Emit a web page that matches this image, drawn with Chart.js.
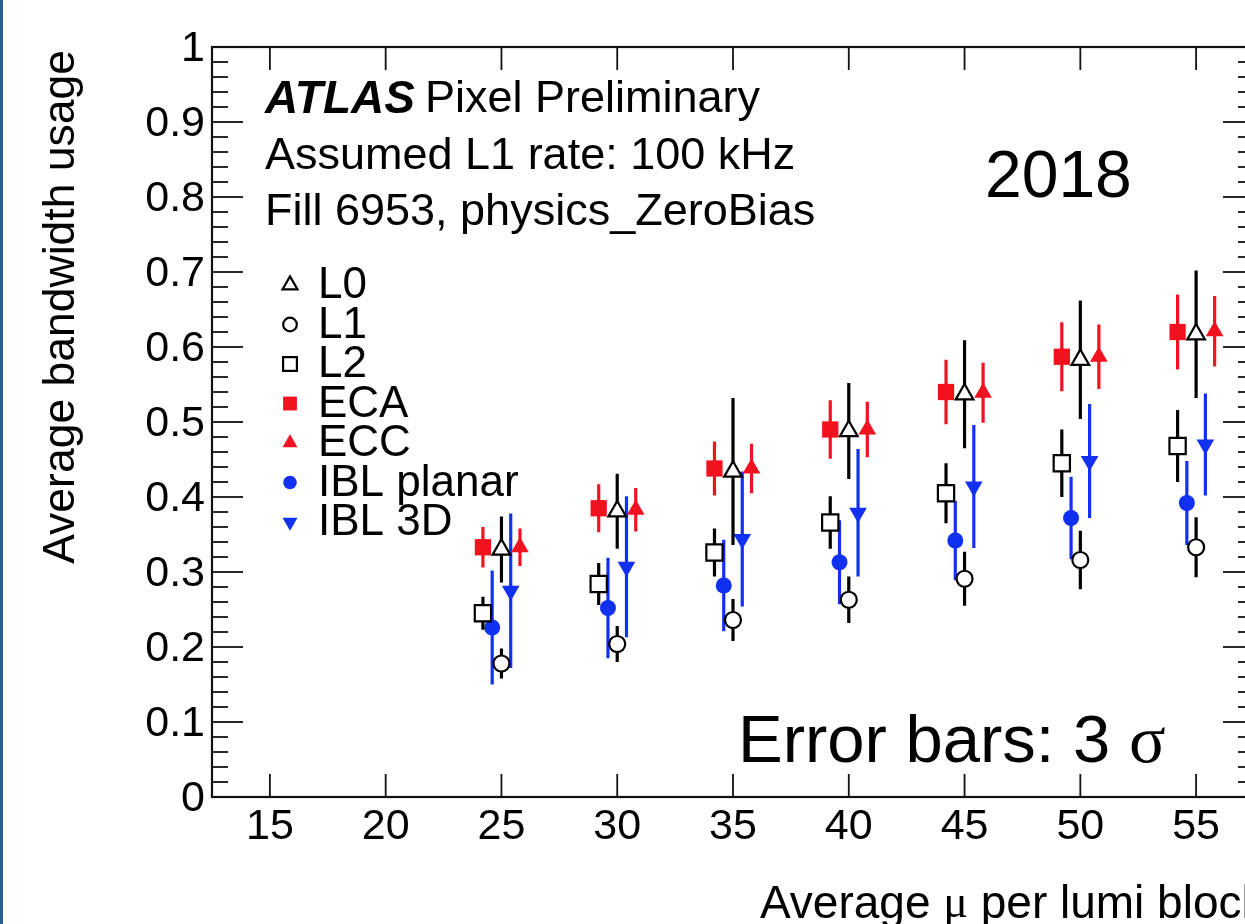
<!DOCTYPE html>
<html>
<head>
<meta charset="utf-8">
<script src="https://cdn.jsdelivr.net/npm/chart.js@4.4.1/dist/chart.umd.min.js"></script>
<style>
html, body { margin: 0; padding: 0; background: #fff; overflow: hidden; }
#chart { position: absolute; left: 0; top: 0; }
#edge { position: absolute; left: 0; top: 0; width: 3px; height: 924px; background: #2a5b9b; }
</style>
</head>
<body>
<canvas id="chart" width="1300" height="924"></canvas>
<div id="edge"></div>
<script>
var muData = [25, 30, 35, 40, 45, 50, 55];

var l0Data = [0.330, 0.381, 0.434, 0.488, 0.537, 0.583, 0.617];
var l0Err = [0.044, 0.050, 0.098, 0.064, 0.072, 0.079, 0.085];
var l1Data = [0.178, 0.204, 0.236, 0.263, 0.291, 0.316, 0.333];
var l1Err = [0.020, 0.024, 0.028, 0.031, 0.036, 0.039, 0.040];
var l2Data = [0.245, 0.284, 0.326, 0.366, 0.405, 0.445, 0.468];
var l2Err = [0.022, 0.028, 0.032, 0.035, 0.040, 0.045, 0.048];
var ecaData = [0.333, 0.385, 0.438, 0.490, 0.540, 0.587, 0.620];
var ecaErr = [0.027, 0.032, 0.036, 0.039, 0.043, 0.046, 0.050];
var eccData = [0.333, 0.383, 0.438, 0.490, 0.539, 0.587, 0.621];
var eccErr = [0.025, 0.029, 0.033, 0.037, 0.040, 0.043, 0.047];
var iblPlanarData = [0.226, 0.252, 0.282, 0.313, 0.342, 0.372, 0.392];
var iblPlanarErr = [0.076, 0.067, 0.061, 0.056, 0.053, 0.055, 0.056];
var ibl3dData = [0.275, 0.307, 0.344, 0.379, 0.414, 0.448, 0.470];
var ibl3dErr = [0.103, 0.094, 0.090, 0.085, 0.082, 0.076, 0.068];

var xTicks = [15, 20, 25, 30, 35, 40, 45, 50, 55];
var yTicks = [0, 0.1, 0.2, 0.3, 0.4, 0.5, 0.6, 0.7, 0.8, 0.9, 1];
var yTickLabels = ['0', '0.1', '0.2', '0.3', '0.4', '0.5', '0.6', '0.7', '0.8', '0.9', '1'];

var RED = '#f2121f', BLUE = '#1230f2', BLACK = '#000';
var SANS = '"Liberation Sans", Arial, Helvetica, sans-serif';
var SERIF = '"Liberation Serif", "Times New Roman", serif';

function points(values, shift) {
    return muData.map(function (mu, i) { return { x: mu + shift, y: values[i] } })
}

function series(label, values, errors, shift, style, radius, fill, line, color, rotation) {
    return {
        label: label,
        data: points(values, shift),
        errors: errors,
        barColor: color,
        pointStyle: style,
        pointRadius: radius,
        pointHoverRadius: radius,
        rotation: rotation || 0,
        backgroundColor: fill,
        borderColor: line,
        borderWidth: fill === '#fff' ? 2.2 : 0
    }
}

var datasets = [
    series('L0', l0Data, l0Err, 0, 'triangle', 10.2, '#fff', BLACK, BLACK),
    series('L1', l1Data, l1Err, 0, 'circle', 8, '#fff', BLACK, BLACK),
    series('L2', l2Data, l2Err, -0.8, 'rect', 11.5, '#fff', BLACK, BLACK),
    series('ECA', ecaData, ecaErr, -0.8, 'rect', 11.5, RED, RED, RED),
    series('ECC', eccData, eccErr, 0.8, 'triangle', 10.2, RED, RED, RED),
    series('IBL planar', iblPlanarData, iblPlanarErr, -0.4, 'circle', 8, BLUE, BLUE, BLUE),
    series('IBL 3D', ibl3dData, ibl3dErr, 0.4, 'triangle', 10.2, BLUE, BLUE, BLUE, 180)
];

function line(ctx, x1, y1, x2, y2) {
    ctx.beginPath();
    ctx.moveTo(x1, y1);
    ctx.lineTo(x2, y2);
    ctx.stroke();
}

function marker(ctx, ds, x, y, r) {
    ctx.save();
    ctx.fillStyle = ds.backgroundColor;
    ctx.strokeStyle = ds.borderColor;
    ctx.lineWidth = ds.borderWidth;
    ctx.beginPath();
    if (ds.pointStyle === 'circle') {
        ctx.arc(x, y, r, 0, Math.PI * 2);
    } else if (ds.pointStyle === 'rect') {
        var s = r * Math.SQRT1_2;
        ctx.rect(x - s, y - s, 2 * s, 2 * s);
    } else {
        var d = ds.rotation ? -1 : 1;
        ctx.moveTo(x, y - d * r);
        ctx.lineTo(x + r * 0.866, y + d * r / 2);
        ctx.lineTo(x - r * 0.866, y + d * r / 2);
        ctx.closePath();
    }
    ctx.fill();
    if (ds.borderWidth > 0) ctx.stroke();
    ctx.restore();
}

var atlasFrame = {
    id: 'atlasFrame',
    beforeDatasetDraw: function (chart, args) {
        var ds = chart.data.datasets[args.index];
        var ctx = chart.ctx, xs = chart.scales.x, ys = chart.scales.y;
        ctx.save();
        ctx.strokeStyle = ds.barColor;
        ctx.lineWidth = 3.2;
        ds.data.forEach(function (p, i) {
            var px = xs.getPixelForValue(p.x);
            line(ctx, px, ys.getPixelForValue(p.y - ds.errors[i]), px, ys.getPixelForValue(p.y + ds.errors[i]));
        });
        ctx.restore();
    },
    afterDraw: function (chart) {
        var ctx = chart.ctx, a = chart.chartArea, xs = chart.scales.x, ys = chart.scales.y;
        ctx.save();
        ctx.strokeStyle = '#111';
        ctx.lineWidth = 2.2;
        ctx.strokeRect(a.left, a.top, a.right - a.left, a.bottom - a.top);

        ctx.lineWidth = 1.8;
        xTicks.forEach(function (v) {
            var px = xs.getPixelForValue(v);
            line(ctx, px, a.bottom, px, a.bottom - 23);
            line(ctx, px, a.top, px, a.top + 23);
        });
        for (var k = 0; k <= 50; k++) {
            var py = ys.getPixelForValue(k / 50);
            var len = k % 5 === 0 ? 31 : 16;
            line(ctx, a.left, py, a.left + len, py);
            line(ctx, a.right, py, a.right - len, py);
        }

        ctx.fillStyle = BLACK;
        ctx.font = '43px ' + SANS;
        ctx.textBaseline = 'middle';
        ctx.textAlign = 'right';
        yTicks.forEach(function (v, i) {
            ctx.fillText(yTickLabels[i], a.left - 7, ys.getPixelForValue(v) + 2);
        });
        ctx.textAlign = 'center';
        xTicks.forEach(function (v) {
            ctx.fillText(String(v), xs.getPixelForValue(v), a.bottom + 30);
        });

        // axis titles
        ctx.font = '46px ' + SANS;
        ctx.textAlign = 'left';
        var tx = 760, ty = 905;
        ctx.fillText('Average ', tx, ty);
        tx += ctx.measureText('Average ').width;
        ctx.font = '46px ' + SERIF;
        ctx.fillText('\u03bc', tx, ty);
        tx += ctx.measureText('\u03bc').width;
        ctx.font = '46px ' + SANS;
        ctx.fillText(' per lumi block', tx, ty);

        ctx.save();
        ctx.translate(62, a.top + 3);
        ctx.rotate(-Math.PI / 2);
        ctx.textAlign = 'right';
        ctx.font = '44.5px ' + SANS;
        ctx.fillText('Average bandwidth usage', 0, 0);
        ctx.restore();

        // labels
        ctx.textAlign = 'left';
        ctx.font = 'italic bold 46px ' + SANS;
        ctx.fillText('ATLAS', 265, 100);
        var w = ctx.measureText('ATLAS').width;
        ctx.font = '45px ' + SANS;
        ctx.fillText('Pixel Preliminary', 265 + w + 10, 100);
        ctx.fillText('Assumed L1 rate: 100 kHz', 265, 157);
        ctx.fillText('Fill 6953, physics_ZeroBias', 265, 213);

        ctx.font = '66px ' + SANS;
        ctx.fillText('2018', 985, 179);

        ctx.font = '67px ' + SANS;
        var ex = 738;
        ctx.fillText('Error bars: 3 ', ex, 744);
        ex += ctx.measureText('Error bars: 3 ').width;
        ctx.font = '68px ' + SERIF;
        ctx.fillText('\u03c3', ex, 744);

        // legend
        ctx.font = '44px ' + SANS;
        chart.data.datasets.forEach(function (ds, i) {
            var ly = 285 + 39.5 * i;
            marker(ctx, ds, 290, ly, ds.pointRadius * 0.85);
            ctx.fillStyle = BLACK;
            ctx.fillText(ds.label, 318, ly + 1);
        });
        ctx.restore();
    }
};

new Chart(document.getElementById('chart').getContext('2d'), {
    type: 'scatter',
    data: { datasets: datasets },
    options: {
        responsive: false,
        animation: false,
        events: [],
        layout: { padding: { left: 212, top: 47, right: 46, bottom: 127 } },
        plugins: { legend: { display: false }, tooltip: { enabled: false } },
        scales: {
            x: { type: 'linear', min: 12.5, max: 57.5, display: false },
            y: { type: 'linear', min: 0, max: 1, display: false }
        }
    },
    plugins: [atlasFrame]
});
</script>
</body>
</html>
